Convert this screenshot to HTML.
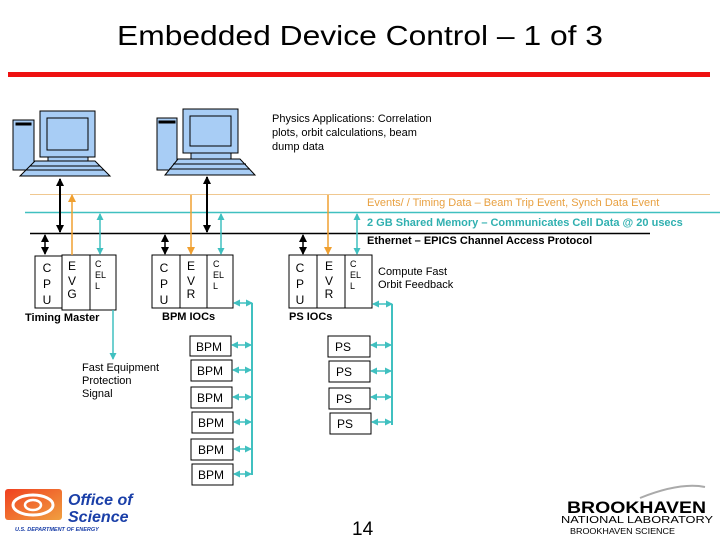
<!DOCTYPE html>
<html><head><meta charset="utf-8"><style>
html,body{margin:0;padding:0;background:#fff}
svg{display:block}
text{font-family:"Liberation Sans",sans-serif}
</style></head><body>
<svg width="720" height="540" viewBox="0 0 720 540" xmlns="http://www.w3.org/2000/svg">
<defs>
<marker id="ak" markerWidth="8" markerHeight="8" refX="7" refY="4" orient="auto-start-reverse" markerUnits="userSpaceOnUse"><path d="M0,0 L8,4 L0,8z" fill="#000"/></marker>
<marker id="ao" markerWidth="8" markerHeight="8" refX="7" refY="4" orient="auto-start-reverse" markerUnits="userSpaceOnUse"><path d="M0,0 L8,4 L0,8z" fill="#f0a030"/></marker>
<marker id="at" markerWidth="7" markerHeight="7" refX="6" refY="3.5" orient="auto-start-reverse" markerUnits="userSpaceOnUse"><path d="M0,0 L7,3.5 L0,7z" fill="#40c0c0"/></marker>
<linearGradient id="og" x1="0" y1="0" x2="1" y2="1"><stop offset="0" stop-color="#f04020"/><stop offset="1" stop-color="#f0a040"/></linearGradient>
</defs>
<text x="360" y="45" font-size="28" text-anchor="middle" textLength="486" lengthAdjust="spacingAndGlyphs">Embedded Device Control – 1 of 3</text>
<rect x="8" y="72" width="702" height="5" fill="#ee1111"/>

<!-- computers -->
<g stroke="#000" stroke-width="1" fill="#a8cdf5">
<rect x="13" y="120" width="21" height="50"/><rect x="16" y="123" width="15" height="2" fill="#000"/>
<rect x="40" y="111" width="55" height="46"/><rect x="47" y="118" width="41" height="32"/>
<rect x="48" y="157" width="40" height="6"/>
<path d="M35,161 L95,161 L110,176 L20,176z"/>
<path d="M30,166 L100,166 M26,170 L104,170" fill="none"/>
<rect x="157" y="118" width="20" height="52"/><rect x="159" y="121" width="16" height="2" fill="#000"/>
<rect x="183" y="109" width="55" height="44"/><rect x="190" y="116" width="41" height="30"/>
<rect x="191" y="153" width="40" height="6"/>
<path d="M178,159 L240,159 L255,175 L165,175z"/>
<path d="M173,164 L246,164 M169,169 L250,169" fill="none"/>
</g>
<text font-size="11"><tspan x="272" y="122">Physics Applications: Correlation</tspan><tspan x="272" y="136">plots, orbit calculations, beam</tspan><tspan x="272" y="150">dump data</tspan></text>

<!-- buses -->
<line x1="30" y1="194.5" x2="710" y2="194.5" stroke="#f0c890" stroke-width="1"/>
<text x="367" y="206" font-size="11" fill="#e8a040">Events/ / Timing Data – Beam Trip Event, Synch Data Event</text>
<line x1="25" y1="212.5" x2="720" y2="212.5" stroke="#40c0c0" stroke-width="1.5"/>
<text x="367" y="226" font-size="11" font-weight="bold" fill="#30b0b0">2 GB Shared Memory – Communicates Cell Data @ 20 usecs</text>
<line x1="30" y1="233.5" x2="650" y2="233.5" stroke="#000" stroke-width="1.5"/>
<text x="367" y="244" font-size="11" font-weight="bold">Ethernet – EPICS Channel Access Protocol</text>

<!-- computer arrows -->
<line x1="60" y1="179" x2="60" y2="232" stroke="#000" stroke-width="2" marker-start="url(#ak)" marker-end="url(#ak)"/>
<line x1="207" y1="177" x2="207" y2="232" stroke="#000" stroke-width="2" marker-start="url(#ak)" marker-end="url(#ak)"/>

<!-- IOC boxes -->
<g fill="#fff" stroke="#000" stroke-width="1">
<rect x="35" y="256" width="27" height="52"/><rect x="62" y="255" width="28" height="55"/><rect x="90" y="255" width="26" height="55"/>
<rect x="152" y="255" width="28" height="53"/><rect x="180" y="255" width="27" height="53"/><rect x="207" y="255" width="26" height="53"/>
<rect x="289" y="255" width="28" height="53"/><rect x="317" y="255" width="28" height="53"/><rect x="345" y="255" width="27" height="53"/>
</g>
<g font-size="12" text-anchor="middle">
<text x="47" y="272">C</text><text x="47" y="288">P</text><text x="47" y="304">U</text>
<text x="72" y="270">E</text><text x="72" y="285">V</text><text x="72" y="298">G</text>
<text x="164" y="272">C</text><text x="164" y="288">P</text><text x="164" y="304">U</text>
<text x="191" y="270">E</text><text x="191" y="285">V</text><text x="191" y="298">R</text>
<text x="300" y="272">C</text><text x="300" y="288">P</text><text x="300" y="304">U</text>
<text x="329" y="270">E</text><text x="329" y="285">V</text><text x="329" y="298">R</text>
</g>
<g font-size="9">
<text x="95" y="267">C</text><text x="95" y="278">EL</text><text x="95" y="289">L</text>
<text x="213" y="267">C</text><text x="213" y="278">EL</text><text x="213" y="289">L</text>
<text x="350" y="267">C</text><text x="350" y="278">EL</text><text x="350" y="289">L</text>
</g>
<text x="25" y="321" font-size="11" font-weight="bold">Timing Master</text>
<text x="162" y="320" font-size="11" font-weight="bold">BPM IOCs</text>
<text x="289" y="320" font-size="11" font-weight="bold">PS IOCs</text>
<text font-size="11"><tspan x="378" y="275">Compute Fast</tspan><tspan x="378" y="288">Orbit Feedback</tspan></text>

<!-- IOC arrows -->
<g stroke-width="1.5" fill="none">
<line x1="45" y1="235" x2="45" y2="254" stroke="#000" marker-start="url(#ak)" marker-end="url(#ak)"/>
<line x1="165" y1="235" x2="165" y2="254" stroke="#000" marker-start="url(#ak)" marker-end="url(#ak)"/>
<line x1="303" y1="235" x2="303" y2="254" stroke="#000" marker-start="url(#ak)" marker-end="url(#ak)"/>
<line x1="72" y1="255" x2="72" y2="195" stroke="#f0a030" marker-end="url(#ao)"/>
<line x1="191" y1="195" x2="191" y2="254" stroke="#f0a030" marker-end="url(#ao)"/>
<line x1="328" y1="195" x2="328" y2="254" stroke="#f0a030" marker-end="url(#ao)"/>
<line x1="100" y1="214" x2="100" y2="254" stroke="#40c0c0" marker-start="url(#at)" marker-end="url(#at)"/>
<line x1="221" y1="214" x2="221" y2="254" stroke="#40c0c0" marker-start="url(#at)" marker-end="url(#at)"/>
<line x1="357" y1="214" x2="357" y2="254" stroke="#40c0c0" marker-start="url(#at)" marker-end="url(#at)"/>
<line x1="113" y1="310" x2="113" y2="359" stroke="#40c0c0" marker-end="url(#at)"/>
<!-- BPM bus -->
<line x1="252" y1="303" x2="252" y2="475" stroke="#40c0c0" stroke-width="2"/>
<line x1="234" y1="303" x2="252" y2="303" stroke="#40c0c0" marker-start="url(#at)" marker-end="url(#at)"/>
<line x1="392" y1="304" x2="392" y2="425" stroke="#40c0c0" stroke-width="2"/>
<line x1="373" y1="304" x2="392" y2="304" stroke="#40c0c0" marker-start="url(#at)" marker-end="url(#at)"/>
</g>
<text font-size="11"><tspan x="82" y="371">Fast Equipment</tspan><tspan x="82" y="384">Protection</tspan><tspan x="82" y="397">Signal</tspan></text>

<g fill="#fff" stroke="#000" stroke-width="1">
<rect x="190" y="336" width="41" height="20"/><rect x="191" y="360" width="41" height="21"/><rect x="191" y="387" width="41" height="21"/>
<rect x="192" y="412" width="41" height="21"/><rect x="191" y="439" width="42" height="21"/><rect x="192" y="464" width="41" height="21"/>
<rect x="328" y="336" width="42" height="21"/><rect x="329" y="361" width="41" height="21"/><rect x="329" y="388" width="41" height="21"/><rect x="330" y="413" width="41" height="21"/>
</g>
<g font-size="12">
<text x="196" y="351">BPM</text><text x="197" y="375">BPM</text><text x="197" y="402">BPM</text><text x="198" y="427">BPM</text><text x="198" y="454">BPM</text><text x="198" y="479">BPM</text>
<text x="335" y="351">PS</text><text x="336" y="376">PS</text><text x="336" y="403">PS</text><text x="337" y="428">PS</text>
</g>
<g stroke="#40c0c0" stroke-width="1.5">
<line x1="232" y1="345" x2="251" y2="345" marker-start="url(#at)" marker-end="url(#at)"/>
<line x1="233" y1="370" x2="251" y2="370" marker-start="url(#at)" marker-end="url(#at)"/>
<line x1="233" y1="397" x2="251" y2="397" marker-start="url(#at)" marker-end="url(#at)"/>
<line x1="234" y1="422" x2="251" y2="422" marker-start="url(#at)" marker-end="url(#at)"/>
<line x1="234" y1="449" x2="251" y2="449" marker-start="url(#at)" marker-end="url(#at)"/>
<line x1="234" y1="474" x2="251" y2="474" marker-start="url(#at)" marker-end="url(#at)"/>
<line x1="371" y1="345" x2="391" y2="345" marker-start="url(#at)" marker-end="url(#at)"/>
<line x1="371" y1="371" x2="391" y2="371" marker-start="url(#at)" marker-end="url(#at)"/>
<line x1="371" y1="397" x2="391" y2="397" marker-start="url(#at)" marker-end="url(#at)"/>
<line x1="372" y1="422" x2="391" y2="422" marker-start="url(#at)" marker-end="url(#at)"/>
</g>

<!-- logos -->
<rect x="5" y="489" width="57" height="31" rx="3" fill="url(#og)"/>
<ellipse cx="33" cy="505" rx="20" ry="10" fill="none" stroke="#fff" stroke-width="3"/>
<ellipse cx="33" cy="505" rx="8" ry="5" fill="none" stroke="#fff" stroke-width="2.5"/>
<text x="68" y="505" font-size="16" font-weight="bold" font-style="italic" fill="#1a3fa8">Office of</text>
<text x="68" y="522" font-size="16" font-weight="bold" font-style="italic" fill="#1a3fa8">Science</text>
<text x="15" y="531" font-size="5.5" font-weight="bold" font-style="italic" fill="#1a3fa8">U.S. DEPARTMENT OF ENERGY</text>
<text x="352" y="535" font-size="19" font-family="Liberation Serif">14</text>
<path d="M640,498 Q680,482 705,487" fill="none" stroke="#aaa" stroke-width="2"/>
<text x="567" y="513" font-size="17" font-weight="bold" textLength="139" lengthAdjust="spacingAndGlyphs">BROOKHAVEN</text>
<text x="561" y="523" font-size="10" font-family="Liberation Serif" textLength="152" lengthAdjust="spacingAndGlyphs">NATIONAL LABORATORY</text>
<text x="570" y="534" font-size="8.5" textLength="105" lengthAdjust="spacingAndGlyphs">BROOKHAVEN SCIENCE</text>
</svg>
</body></html>
